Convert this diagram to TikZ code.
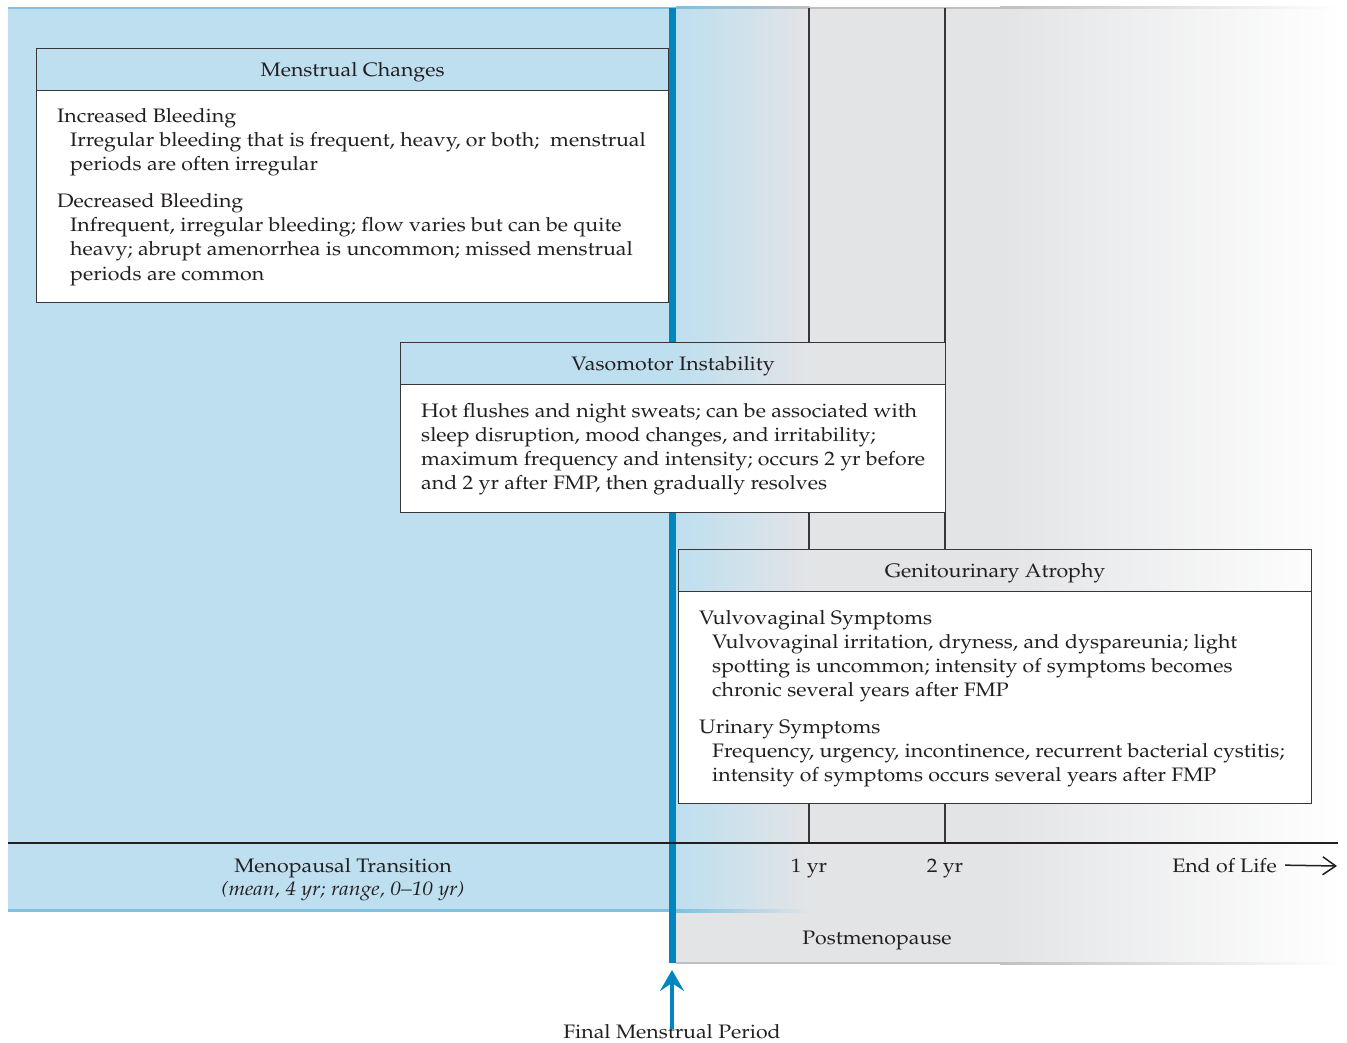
\documentclass[tikz,border=0pt]{standalone}
\usepackage[T1]{fontenc}
\usepackage{mathpazo}
\usepackage{graphicx}
\usetikzlibrary{arrows.meta}
\definecolor{bgblue}{RGB}{190,223,239}
\definecolor{edgeblue}{RGB}{126,193,225}
\definecolor{barblue}{RGB}{0,134,191}
\definecolor{bggray}{RGB}{227,228,230}
\definecolor{edgegray}{RGB}{192,192,194}
\definecolor{ink}{RGB}{35,31,32}
\definecolor{boxline}{RGB}{55,55,58}
\newcommand{\wtx}[1]{\scalebox{1.095}[1]{#1}}
\newcommand{\htx}[1]{\raisebox{-2.5pt}[\height][\depth]{\wtx{#1}}}
\tikzset{
  txt/.style={font=\fontsize{19.5}{24}\selectfont, text=ink, inner sep=0pt, anchor=base west},
  ctxt/.style={txt, anchor=base},
  boxhead/.style={draw=boxline, line width=1.2pt, inner sep=0pt, anchor=north west,
    font=\fontsize{19.5}{24}\selectfont, text=ink},
  boxbody/.style={draw=boxline, line width=1.2pt, fill=white, inner sep=0pt, anchor=north west},
  gridline/.style={draw=boxline, line width=1.3pt},
}
\begin{document}
\begin{tikzpicture}[x=1pt,y=-1pt]
\useasboundingbox (0,0) rectangle (1347,1043);
% ---------- backgrounds
\fill[bgblue] (8,8) rectangle (677,910);
\shade[left color=bgblue, right color=bggray] (676,8) rectangle (810,910);
\fill[bggray] (676,910) rectangle (810,963);
\fill[bggray] (810,8) rectangle (1000,963);
\shade[left color=bggray, right color=white] (1000,8) rectangle (1342,963);
% top edge
\fill[edgeblue] (8,7) rectangle (677,9);
\shade[left color=edgeblue, right color=edgegray] (676,7) rectangle (810,9);
\fill[edgegray] (810,7) rectangle (1000,9);
\shade[left color=edgegray, right color=white] (1000,7) rectangle (1342,9);
% bottom edges
\fill[edgeblue] (8,909) rectangle (677,912);
\shade[left color=edgeblue, right color=bggray] (676,909) rectangle (810,912);
\fill[edgegray] (676,962) rectangle (1000,964);
\shade[left color=edgegray, right color=white] (1000,962) rectangle (1342,964);
% ---------- FMP bar
\fill[barblue] (669,8) rectangle (676,342);
\fill[barblue] (669,512) rectangle (676,963);
% ---------- year lines and axis
\draw[gridline] (809,8) -- (809,342) (809,512) -- (809,549) (809,803) -- (809,843);
\draw[gridline] (945,8) -- (945,342) (945,512) -- (945,549) (945,803) -- (945,843);
\draw[ink, line width=1.3pt] (8,843) -- (1338,843);
% ---------- Menstrual Changes
\node[boxbody, minimum width=632pt, minimum height=212pt] (mcbody) at (36,90) {};
\node[boxhead, minimum width=632pt, minimum height=42pt] (mchead) at (36,48) {\htx{Menstrual Changes}};
\node[txt] (mc1) at (57,123) {\wtx{Increased Bleeding}};
\node[txt] (mc2) at (70,147) {\wtx{Irregular bleeding that is frequent, heavy, or both;\ \ menstrual}};
\node[txt] (mc3) at (70,171) {\wtx{periods are often irregular}};
\node[txt] (mc4) at (57,208) {\wtx{Decreased Bleeding}};
\node[txt] (mc5) at (70,232) {\wtx{Infrequent, irregular bleeding; flow varies but can be quite}};
\node[txt] (mc6) at (70,256) {\wtx{heavy; abrupt amenorrhea is uncommon; missed menstrual}};
\node[txt] (mc7) at (70,280) {\wtx{periods are common}};
% ---------- Vasomotor Instability
\node[boxbody, minimum width=545pt, minimum height=128pt] (vmbody) at (400,384) {};
\node[boxhead, minimum width=545pt, minimum height=42pt] (vmhead) at (400,342) {\htx{Vasomotor Instability}};
\node[txt] (vm1) at (421,417) {\wtx{Hot flushes and night sweats; can be associated with}};
\node[txt] (vm2) at (421,441) {\wtx{sleep disruption, mood changes, and irritability;}};
\node[txt] (vm3) at (421,465) {\wtx{maximum frequency and intensity; occurs 2 yr before}};
\node[txt] (vm4) at (421,489) {\wtx{and 2 yr after FMP, then gradually resolves}};
% ---------- Genitourinary Atrophy
\node[boxbody, minimum width=633pt, minimum height=212pt] (gabody) at (678,591) {};
\node[boxhead, minimum width=633pt, minimum height=42pt] (gahead) at (678,549) {\htx{Genitourinary Atrophy}};
\node[txt] (ga1) at (699,624) {\wtx{Vulvovaginal Symptoms}};
\node[txt] (ga2) at (712,648) {\wtx{Vulvovaginal irritation, dryness, and dyspareunia; light}};
\node[txt] (ga3) at (712,672) {\wtx{spotting is uncommon; intensity of symptoms becomes}};
\node[txt] (ga4) at (712,696) {\wtx{chronic several years after FMP}};
\node[txt] (ga5) at (699,733) {\wtx{Urinary Symptoms}};
\node[txt] (ga6) at (712,757) {\wtx{Frequency, urgency, incontinence, recurrent bacterial cystitis;}};
\node[txt] (ga7) at (712,781) {\wtx{intensity of symptoms occurs several years after FMP}};
% ---------- axis labels
\node[ctxt] (mt) at (343,872) {\wtx{Menopausal Transition}};
\node[ctxt] (mtr) at (343,895) {\wtx{\itshape (mean, 4 yr; range, 0--10 yr)}};
\node[ctxt] (y1) at (809,872) {\wtx{1 yr}};
\node[ctxt] (y2) at (945,872) {\wtx{2 yr}};
\node[txt, anchor=base east] (eol) at (1277,872) {\wtx{End of Life}};
\coordinate (eolend) at (1337,866);
\draw[ink, line width=1.5pt, -{Straight Barb[length=13pt,width=18pt,line width=1.5pt]}] ([xshift=8pt]eol.east) -- (eolend);
\node[ctxt] (pm) at (877,944) {\wtx{Postmenopause}};
% ---------- FMP arrow
\node[ctxt] (fmp) at (672,1038) {\wtx{Final Menstrual Period}};
\coordinate (fmptip) at (672,970);
\draw[barblue, line width=3.5pt, -{Stealth[length=21pt,width=24pt,inset=8pt]}] ([yshift=-5pt]fmp.north) -- (fmptip);
\end{tikzpicture}
\end{document}
